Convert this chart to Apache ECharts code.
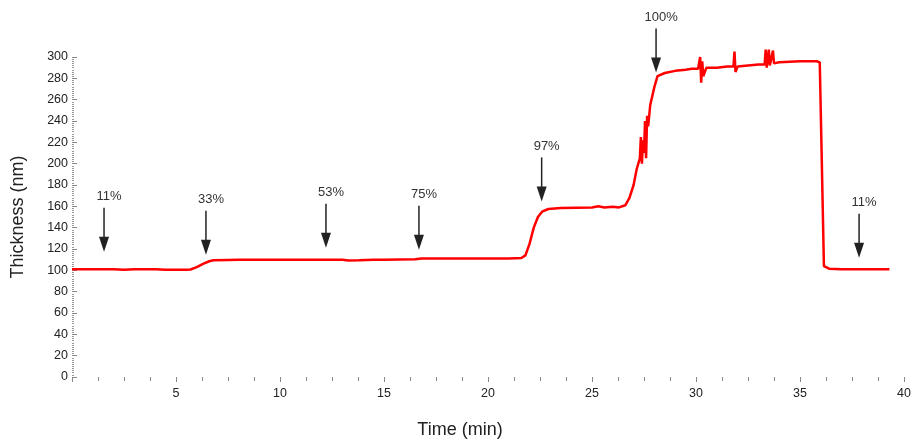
<!DOCTYPE html>
<html>
<head>
<meta charset="utf-8">
<script src="https://cdn.jsdelivr.net/npm/echarts@6/dist/echarts.min.js"></script>
<style>
html,body{margin:0;padding:0;background:#fff;}
#chart{width:912px;height:439px;}
</style>
</head>
<body>
<div id="chart"></div>
<script>
// Thickness (nm) vs time (min)
var timeMin = [0.0,1.0,2.0,2.5,3.0,4.0,4.5,5.0,5.5,5.7,6.0,6.3,6.6,6.8,7.5,8,9,10,11,12,13,13.3,13.8,14.5,15,16.5,16.8,19,21,21.6,21.8,22.0,22.2,22.4,22.6,22.9,23.5,25,25.3,25.6,26,26.3,26.6,26.8,27.0,27.15,27.3,27.35,27.4,27.45,27.5,27.55,27.6,27.65,27.7,27.8,28.0,28.15,28.5,29,29.5,29.8,30.1,30.2,30.25,30.3,30.35,30.5,31,31.5,31.8,31.85,31.9,32,33,33.3,33.35,33.4,33.5,33.55,33.7,33.75,34,35,35.8,35.95,36.05,36.15,36.4,37,38,39.3];
var thickness = [101,101,101,100.5,101,101,100.5,100.5,100.5,100.8,103,106,108.5,109.5,109.8,110,110,110,110,110,110,109.2,109.5,110,110,110.3,111,111,111,111.5,114,125,140,150,155,157.5,158.5,159,160,159,159.5,159,161,168,180,195,205,225,200,222,210,240,205,245,235,255,272,282,285,287,288,289,289,300,276,296,282,290,290,291,291,305,286,291,293,293,307,290,307,292,306,294,295,296,296,295,200,104,101.5,101,101,101];
// Arrow annotations: time of the arrow, thickness value at the arrow tip, label
var annTime  = [1.54, 6.44, 12.21, 16.68, 22.58, 28.08, 37.84];
var annTip   = [117.4, 114.6, 121.1, 119.2, 164.6, 285.4, 111.7];
var annLabel = ['11%', '33%', '53%', '75%', '97%', '100%', '11%'];
// Axis ticks
var xTicks = [0, 5, 10, 15, 20, 25, 30, 35, 40];
var yTicks = [0, 20, 40, 60, 80, 100, 120, 140, 160, 180, 200, 220, 240, 260, 280, 300];

var lineData = timeMin.map(function (t, i) { return [t, thickness[i]]; });
var annData = annTime.map(function (t, i) { return [t, annTip[i], annLabel[i]]; });

var chart = echarts.init(document.getElementById('chart'), null, {renderer: 'canvas'});
var font = '"Liberation Sans", Arial, sans-serif';
chart.setOption({
  animation: false,
  backgroundColor: '#ffffff',
  grid: {left: 72, right: 8, top: 57, bottom: 62, containLabel: false, outerBoundsMode: 'none'},
  xAxis: {
    type: 'value',
    min: xTicks[0], max: xTicks[xTicks.length - 1], interval: xTicks[1] - xTicks[0],
    offset: 4,
    name: 'Time (min)',
    nameLocation: 'middle',
    nameGap: 40,
    nameTextStyle: {fontFamily: font, fontSize: 18, color: '#222', padding: [0, 56, 0, 0]},
    axisLine: {show: false},
    axisTick: {show: true, length: 5, lineStyle: {color: '#888', width: 1}},
    minorTick: {show: true, splitNumber: 4, length: 4, lineStyle: {color: '#888', width: 1}},
    splitLine: {show: false},
    axisLabel: {fontFamily: font, fontSize: 12.5, color: '#222', margin: 6, showMinLabel: false}
  },
  yAxis: {
    type: 'value',
    min: yTicks[0], max: yTicks[yTicks.length - 1], interval: yTicks[1] - yTicks[0],
    name: 'Thickness (nm)',
    nameLocation: 'middle',
    nameGap: 45,
    nameRotate: 90,
    nameTextStyle: {fontFamily: font, fontSize: 18, color: '#222'},
    axisLine: {show: false},
    axisTick: {show: true, inside: true, length: 5, lineStyle: {color: '#888', width: 1}},
    minorTick: {show: true, splitNumber: 10, length: 2, lineStyle: {color: '#999', width: 1}},
    splitLine: {show: false},
    axisLabel: {fontFamily: font, fontSize: 12.5, color: '#222', margin: 4}
  },
  series: [
    {
      type: 'line',
      data: lineData,
      showSymbol: false,
      clip: false,
      lineStyle: {color: '#ff0000', width: 2.5},
      itemStyle: {color: '#ff0000'},
      z: 2
    },
    {
      type: 'custom',
      data: annData,
      clip: false,
      z: 3,
      renderItem: function (params, api) {
        var p = api.coord([api.value(0), api.value(1)]);
        var x = p[0], y = p[1];
        return {
          type: 'group',
          children: [
            {type: 'line', shape: {x1: x, y1: y - 44, x2: x, y2: y - 14},
             style: {stroke: '#222', lineWidth: 1.5}},
            {type: 'polygon', shape: {points: [[x - 5, y - 15], [x + 5, y - 15], [x, y]]},
             style: {fill: '#222'}},
            {type: 'text', x: x + 5, y: y - 55,
             style: {text: annLabel[params.dataIndex], fontFamily: font, fontSize: 13,
                     fill: '#333', align: 'center', verticalAlign: 'middle'}}
          ]
        };
      }
    }
  ]
});
</script>
</body>
</html>
